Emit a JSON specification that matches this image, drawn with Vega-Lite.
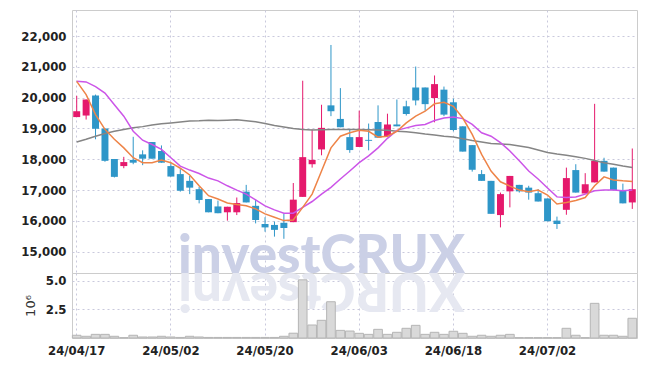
{
  "$schema": "https://vega.github.io/schema/vega-lite/v6.json",
  "padding": {"left": 5, "top": 9, "right": 9, "bottom": 5},
  "background": "white",
  "bounds": "flush",
  "datasets": {
    "stock": [
      {"d":"24/04/17","o":19370,"h":20060,"l":19370,"c":19560,"v":0.24,"ma5":20530,"ma20":20530,"ma60":18560},
      {"d":"24/04/18","o":19420,"h":19940,"l":19290,"c":19940,"v":0.15,"ma5":20100,"ma20":20510,"ma60":18650},
      {"d":"24/04/19","o":20070,"h":20100,"l":18650,"c":18990,"v":0.32,"ma5":19450,"ma20":20360,"ma60":18750},
      {"d":"24/04/22","o":19000,"h":19000,"l":17920,"c":17950,"v":0.32,"ma5":18970,"ma20":20150,"ma60":18840},
      {"d":"24/04/23","o":18010,"h":18010,"l":17410,"c":17430,"v":0.15,"ma5":18650,"ma20":19770,"ma60":18910},
      {"d":"24/04/24","o":17780,"h":18080,"l":17710,"c":17910,"v":0.03,"ma5":18370,"ma20":19400,"ma60":18970},
      {"d":"24/04/25","o":17980,"h":18730,"l":17840,"c":17890,"v":0.24,"ma5":18050,"ma20":18910,"ma60":19020},
      {"d":"24/04/26","o":18160,"h":18290,"l":17810,"c":18020,"v":0.09,"ma5":17890,"ma20":18620,"ma60":19060},
      {"d":"24/04/29","o":18560,"h":18560,"l":18020,"c":18020,"v":0.09,"ma5":17890,"ma20":18480,"ma60":19110},
      {"d":"24/04/30","o":18270,"h":18450,"l":17890,"c":17890,"v":0.15,"ma5":17980,"ma20":18320,"ma60":19150},
      {"d":"24/05/02","o":17780,"h":17890,"l":17440,"c":17440,"v":0.09,"ma5":17890,"ma20":18050,"ma60":19180},
      {"d":"24/05/03","o":17520,"h":17680,"l":16950,"c":16980,"v":0.05,"ma5":17710,"ma20":17780,"ma60":19210},
      {"d":"24/05/07","o":17300,"h":17460,"l":16870,"c":17080,"v":0.15,"ma5":17490,"ma20":17650,"ma60":19240},
      {"d":"24/05/08","o":17030,"h":17110,"l":16570,"c":16680,"v":0.09,"ma5":17140,"ma20":17540,"ma60":19250},
      {"d":"24/05/09","o":16710,"h":16710,"l":16280,"c":16280,"v":0.05,"ma5":16820,"ma20":17390,"ma60":19270},
      {"d":"24/05/10","o":16470,"h":16660,"l":16250,"c":16250,"v":0.05,"ma5":16710,"ma20":17300,"ma60":19260},
      {"d":"24/05/13","o":16280,"h":16460,"l":16010,"c":16460,"v":0.05,"ma5":16580,"ma20":17140,"ma60":19270},
      {"d":"24/05/14","o":16280,"h":16760,"l":16190,"c":16580,"v":0.05,"ma5":16530,"ma20":17000,"ma60":19280},
      {"d":"24/05/16","o":16950,"h":17170,"l":16600,"c":16600,"v":0.05,"ma5":16490,"ma20":16870,"ma60":19250},
      {"d":"24/05/17","o":16490,"h":16690,"l":15920,"c":16030,"v":0.05,"ma5":16390,"ma20":16680,"ma60":19220},
      {"d":"24/05/20","o":15900,"h":16120,"l":15650,"c":15790,"v":0.05,"ma5":16230,"ma20":16490,"ma60":19160},
      {"d":"24/05/21","o":15870,"h":15980,"l":15490,"c":15710,"v":0.05,"ma5":16120,"ma20":16360,"ma60":19100},
      {"d":"24/05/22","o":15940,"h":16230,"l":15420,"c":15770,"v":0.15,"ma5":16010,"ma20":16250,"ma60":19050},
      {"d":"24/05/23","o":15960,"h":17230,"l":15960,"c":16690,"v":0.42,"ma5":16030,"ma20":16250,"ma60":19000},
      {"d":"24/05/24","o":16780,"h":20550,"l":16780,"c":18070,"v":5.1,"ma5":16440,"ma20":16440,"ma60":18970},
      {"d":"24/05/27","o":17840,"h":18970,"l":17730,"c":17980,"v":1.14,"ma5":16870,"ma20":16630,"ma60":18950},
      {"d":"24/05/28","o":18320,"h":19770,"l":18130,"c":19020,"v":1.55,"ma5":17620,"ma20":16870,"ma60":18960},
      {"d":"24/05/29","o":19750,"h":21710,"l":19400,"c":19560,"v":3.18,"ma5":18370,"ma20":17090,"ma60":18970},
      {"d":"24/05/30","o":19310,"h":20310,"l":19040,"c":19040,"v":0.67,"ma5":18750,"ma20":17360,"ma60":18970},
      {"d":"24/05/31","o":18720,"h":18990,"l":18210,"c":18300,"v":0.61,"ma5":18860,"ma20":17620,"ma60":18970},
      {"d":"24/06/03","o":18400,"h":19580,"l":18400,"c":18720,"v":0.41,"ma5":18940,"ma20":17890,"ma60":18970},
      {"d":"24/06/04","o":18630,"h":19160,"l":18290,"c":18600,"v":0.32,"ma5":18910,"ma20":18110,"ma60":18960},
      {"d":"24/06/05","o":19210,"h":19750,"l":18700,"c":18700,"v":0.76,"ma5":18720,"ma20":18370,"ma60":18950},
      {"d":"24/06/07","o":18750,"h":19480,"l":18720,"c":19130,"v":0.32,"ma5":18750,"ma20":18680,"ma60":18940},
      {"d":"24/06/10","o":19130,"h":19940,"l":19070,"c":19070,"v":0.5,"ma5":18910,"ma20":18940,"ma60":18910},
      {"d":"24/06/11","o":19720,"h":19900,"l":19420,"c":19470,"v":0.85,"ma5":19180,"ma20":19020,"ma60":18890},
      {"d":"24/06/12","o":20330,"h":21010,"l":19750,"c":19910,"v":1.11,"ma5":19400,"ma20":19100,"ma60":18860},
      {"d":"24/06/13","o":20330,"h":20330,"l":19580,"c":19790,"v":0.32,"ma5":19560,"ma20":19130,"ma60":18820},
      {"d":"24/06/14","o":19990,"h":20720,"l":19200,"c":20440,"v":0.5,"ma5":19800,"ma20":19260,"ma60":18790},
      {"d":"24/06/17","o":20260,"h":20360,"l":19400,"c":19450,"v":0.32,"ma5":19850,"ma20":19340,"ma60":18750},
      {"d":"24/06/18","o":19850,"h":19970,"l":18910,"c":18950,"v":0.59,"ma5":19720,"ma20":19370,"ma60":18720},
      {"d":"24/06/19","o":19070,"h":19070,"l":18250,"c":18250,"v":0.41,"ma5":19340,"ma20":19320,"ma60":18670},
      {"d":"24/06/20","o":18460,"h":18460,"l":17600,"c":17660,"v":0.15,"ma5":18810,"ma20":19130,"ma60":18610},
      {"d":"24/06/21","o":17520,"h":17650,"l":17300,"c":17300,"v":0.24,"ma5":18160,"ma20":18860,"ma60":18560},
      {"d":"24/06/24","o":17300,"h":17300,"l":16230,"c":16230,"v":0.15,"ma5":17620,"ma20":18750,"ma60":18510},
      {"d":"24/06/25","o":16190,"h":16920,"l":15790,"c":16870,"v":0.24,"ma5":17270,"ma20":18540,"ma60":18500},
      {"d":"24/06/26","o":16960,"h":17460,"l":16440,"c":17460,"v":0.32,"ma5":17130,"ma20":18270,"ma60":18480},
      {"d":"24/06/27","o":17170,"h":17170,"l":16920,"c":16960,"v":0.03,"ma5":17000,"ma20":17950,"ma60":18430},
      {"d":"24/06/28","o":17080,"h":17140,"l":16690,"c":16920,"v":0.03,"ma5":16950,"ma20":17620,"ma60":18380},
      {"d":"24/07/01","o":16900,"h":17030,"l":16630,"c":16630,"v":0.03,"ma5":17000,"ma20":17360,"ma60":18300},
      {"d":"24/07/02","o":16730,"h":16730,"l":15990,"c":15990,"v":0.03,"ma5":16840,"ma20":17070,"ma60":18220},
      {"d":"24/07/03","o":16010,"h":16140,"l":15740,"c":15900,"v":0.03,"ma5":16550,"ma20":16780,"ma60":18170},
      {"d":"24/07/04","o":16360,"h":17730,"l":16200,"c":17390,"v":0.85,"ma5":16600,"ma20":16760,"ma60":18130},
      {"d":"24/07/05","o":17650,"h":17840,"l":16920,"c":16920,"v":0.24,"ma5":16660,"ma20":16780,"ma60":18080},
      {"d":"24/07/08","o":16890,"h":17550,"l":16890,"c":17190,"v":0.03,"ma5":16760,"ma20":16870,"ma60":18030},
      {"d":"24/07/09","o":17250,"h":19800,"l":17250,"c":17950,"v":3.04,"ma5":17140,"ma20":16980,"ma60":17960},
      {"d":"24/07/10","o":17950,"h":18050,"l":17600,"c":17600,"v":0.24,"ma5":17430,"ma20":17000,"ma60":17890},
      {"d":"24/07/11","o":17730,"h":17730,"l":17000,"c":17000,"v":0.24,"ma5":17330,"ma20":17000,"ma60":17840},
      {"d":"24/07/12","o":17000,"h":17210,"l":16570,"c":16570,"v":0.15,"ma5":17300,"ma20":16980,"ma60":17780},
      {"d":"24/07/15","o":16600,"h":18350,"l":16390,"c":17030,"v":1.73,"ma5":17280,"ma20":17000,"ma60":17730}
    ],
    "mark": [
      {"label":"investCRUX","mirror":"XURCtsevni","d":"24/05/28","pmin":14310,"vtop":5.7}
    ]
  },
  "config": {
    "view": {"stroke": "#cccccc", "strokeWidth": 1},
    "concat": {"spacing": 0},
    "axis": {
      "labelFont": "DejaVu Sans Condensed",
      "labelFontSize": 13,
      "labelFontWeight": "bold",
      "labelColor": "#222222",
      "titleFont": "DejaVu Sans",
      "titleFontWeight": "normal",
      "titleFontSize": 13,
      "titleColor": "#333333",
      "domain": false,
      "ticks": false,
      "gridColor": "#c9c9dc",
      "gridDash": [2, 3],
      "gridWidth": 1
    }
  },
  "vconcat": [
    {
      "width": 565,
      "height": 263,
      "data": {"name": "stock"},
      "encoding": {
        "x": {
          "field": "d", "type": "ordinal", "sort": null,
          "scale": {"paddingInner": 0, "paddingOuter": 0,
                    "domain": ["24/04/17","24/04/18","24/04/19","24/04/22","24/04/23","24/04/24","24/04/25","24/04/26","24/04/29","24/04/30","24/05/02","24/05/03","24/05/07","24/05/08","24/05/09","24/05/10","24/05/13","24/05/14","24/05/16","24/05/17","24/05/20","24/05/21","24/05/22","24/05/23","24/05/24","24/05/27","24/05/28","24/05/29","24/05/30","24/05/31","24/06/03","24/06/04","24/06/05","24/06/07","24/06/10","24/06/11","24/06/12","24/06/13","24/06/14","24/06/17","24/06/18","24/06/19","24/06/20","24/06/21","24/06/24","24/06/25","24/06/26","24/06/27","24/06/28","24/07/01","24/07/02","24/07/03","24/07/04","24/07/05","24/07/08","24/07/09","24/07/10","24/07/11","24/07/12","24/07/15"]},
          "axis": {"title": null, "labels": false, "grid": true, "bandPosition": 0.5,
                   "values": ["24/04/17","24/05/02","24/05/20","24/06/03","24/06/18","24/07/02"]}
        },
        "y": {"type": "quantitative", "scale": {"domain": [14310, 22845], "nice": false, "zero": false},
              "axis": {"title": null, "values": [15000,16000,17000,18000,19000,20000,21000,22000], "labelExpr": "format(datum.value, ',')", "grid": true, "labelPadding": 6, "minExtent": 66, "maxExtent": 66}}
      },
      "layer": [
        {
          "data": {"name": "mark"},
          "mark": {"type": "text", "font": "Lato", "fontWeight": 900, "fontSize": 53, "color": "#cbd0e6", "baseline": "alphabetic", "align": "center"},
          "encoding": {
            "y": {"field": "pmin"},
            "text": {"field": "label"}
          }
        },
        {
          "mark": {"type": "rule", "strokeWidth": 1},
          "encoding": {
            "y": {"field": "l"},
            "y2": {"field": "h"},
            "color": {"condition": {"test": "datum.c >= datum.o", "value": "#e5196c"}, "value": "#2e96c8"}
          }
        },
        {
          "mark": {"type": "bar", "width": {"band": 0.74}},
          "encoding": {
            "y": {"field": "o"},
            "y2": {"field": "c"},
            "color": {"condition": {"test": "datum.c >= datum.o", "value": "#e5196c"}, "value": "#2e96c8"}
          }
        },
        {
          "mark": {"type": "line", "color": "#858585", "strokeWidth": 1.5},
          "encoding": {"y": {"field": "ma60"}}
        },
        {
          "mark": {"type": "line", "color": "#cc55e8", "strokeWidth": 1.5},
          "encoding": {"y": {"field": "ma20"}}
        },
        {
          "mark": {"type": "line", "color": "#ee8448", "strokeWidth": 1.5},
          "encoding": {"y": {"field": "ma5"}}
        }
      ]
    },
    {
      "width": 565,
      "height": 65,
      "data": {"name": "stock"},
      "encoding": {
        "x": {
          "field": "d", "type": "ordinal", "sort": null,
          "scale": {"paddingInner": 0, "paddingOuter": 0,
                    "domain": ["24/04/17","24/04/18","24/04/19","24/04/22","24/04/23","24/04/24","24/04/25","24/04/26","24/04/29","24/04/30","24/05/02","24/05/03","24/05/07","24/05/08","24/05/09","24/05/10","24/05/13","24/05/14","24/05/16","24/05/17","24/05/20","24/05/21","24/05/22","24/05/23","24/05/24","24/05/27","24/05/28","24/05/29","24/05/30","24/05/31","24/06/03","24/06/04","24/06/05","24/06/07","24/06/10","24/06/11","24/06/12","24/06/13","24/06/14","24/06/17","24/06/18","24/06/19","24/06/20","24/06/21","24/06/24","24/06/25","24/06/26","24/06/27","24/06/28","24/07/01","24/07/02","24/07/03","24/07/04","24/07/05","24/07/08","24/07/09","24/07/10","24/07/11","24/07/12","24/07/15"]},
          "axis": {"title": null, "grid": true, "bandPosition": 0.5, "labelAngle": 0, "labelPadding": 6,
                   "values": ["24/04/17","24/05/02","24/05/20","24/06/03","24/06/18","24/07/02"]}
        },
        "y": {"type": "quantitative", "scale": {"domain": [0, 5.7], "nice": false},
              "axis": {"title": "10⁶", "values": [2.5, 5.0], "labelExpr": "format(datum.value, '.1f')", "grid": true, "labelPadding": 6, "titlePadding": 3, "minExtent": 32, "maxExtent": 32}}
      },
      "layer": [
        {
          "data": {"name": "mark"},
          "mark": {"type": "text", "font": "Lato", "fontWeight": 900, "fontSize": 53, "color": "#e6e8f1", "baseline": "alphabetic", "align": "center", "angle": 180},
          "encoding": {
            "y": {"field": "vtop"},
            "text": {"field": "mirror"}
          }
        },
        {
          "mark": {"type": "bar", "width": {"band": 0.92}, "fill": "#d9d9d9", "stroke": "#b5b5b5", "strokeWidth": 1},
          "encoding": {
            "y": {"field": "v"}
          }
        }
      ]
    }
  ]
}
